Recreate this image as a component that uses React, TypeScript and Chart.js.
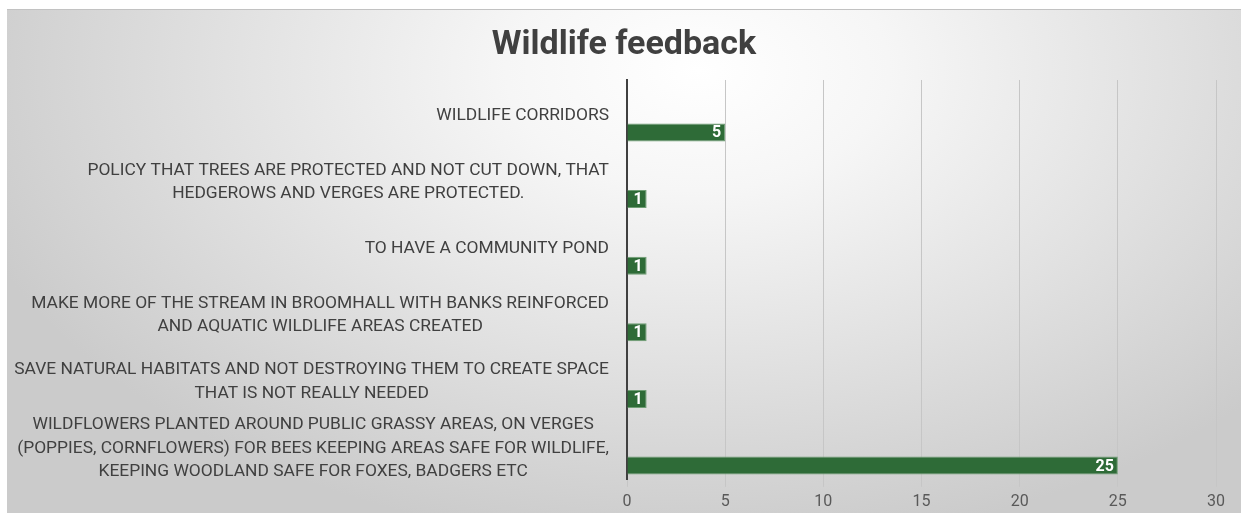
import React, { useEffect, useRef } from "react";
import { Chart, registerables } from "chart.js";

Chart.register(...registerables);

const chartTitle = "Wildlife feedback";
const categories: string[][] = [
  ["WILDLIFE CORRIDORS"],
  ["POLICY THAT TREES ARE PROTECTED AND NOT CUT DOWN, THAT", "HEDGEROWS AND VERGES ARE PROTECTED."],
  ["TO HAVE A COMMUNITY POND"],
  ["MAKE MORE OF THE STREAM IN BROOMHALL WITH BANKS REINFORCED", "AND AQUATIC WILDLIFE AREAS CREATED"],
  ["SAVE NATURAL HABITATS AND NOT DESTROYING THEM TO CREATE SPACE", "THAT IS NOT REALLY NEEDED"],
  [
    "WILDFLOWERS PLANTED AROUND PUBLIC GRASSY AREAS, ON VERGES",
    "(POPPIES, CORNFLOWERS) FOR BEES KEEPING AREAS SAFE FOR WILDLIFE,",
    "KEEPING WOODLAND SAFE FOR FOXES, BADGERS ETC",
  ],
];
const counts = [5, 1, 1, 1, 1, 25];
const spacerValues = [null, null, null, null, null, null];
const xMin = 0;
const xMax = 30;
const xStep = 5;

const LABEL_FONT = "17.4px Roboto";
const LABEL_COLOR = "#404040";

const titlePlugin = {
  id: "centeredTitle",
  afterDraw(chart: any) {
    const ctx = chart.ctx;
    ctx.save();
    ctx.font = "bold 34px Roboto";
    ctx.fillStyle = "#404040";
    ctx.textAlign = "center";
    ctx.textBaseline = "middle";
    ctx.fillText(chartTitle, chart.width / 2, 35);
    ctx.restore();
  },
};

const yLabelPlugin = {
  id: "yLabelBlocks",
  afterDraw(chart: any) {
    const ctx = chart.ctx;
    const yScale = chart.scales.y;
    const area = chart.chartArea;
    ctx.save();
    ctx.font = LABEL_FONT;
    ctx.fillStyle = LABEL_COLOR;
    ctx.textAlign = "center";
    ctx.textBaseline = "middle";
    const right = area.left - 18;
    const lh = 23.5;
    categories.forEach((lines, i) => {
      const cy = yScale.getPixelForValue(i) + 2;
      const maxW = Math.max(...lines.map((l) => ctx.measureText(l).width));
      const cx = right - maxW / 2;
      lines.forEach((l, j) => {
        ctx.fillText(l, cx, cy + (j - (lines.length - 1) / 2) * lh);
      });
    });
    ctx.restore();
  },
};

const valueLabelPlugin = {
  id: "valueLabels",
  afterDatasetsDraw(chart: any) {
    const ctx = chart.ctx;
    const meta = chart.getDatasetMeta(1);
    ctx.save();
    ctx.font = "bold 16px 'Liberation Sans Narrow', 'Roboto', sans-serif";
    ctx.fillStyle = "#ffffff";
    ctx.textAlign = "right";
    ctx.textBaseline = "middle";
    meta.data.forEach((el: any, i: number) => {
      ctx.fillText(String(counts[i]), el.x - 4, el.y + 1);
    });
    ctx.restore();
  },
};

export default function App() {
  const canvasRef = useRef<HTMLCanvasElement | null>(null);

  useEffect(() => {
    if (!canvasRef.current) return;
    const chart = new Chart(canvasRef.current, {
      type: "bar",
      data: {
        labels: categories.map((c) => c.join(" ")),
        datasets: [
          {
            label: "spacer",
            data: spacerValues as any,
            backgroundColor: "rgba(0,0,0,0)",
          },
          {
            label: "Count",
            data: counts,
            backgroundColor: "#2e6b37",
            borderColor: "#6f9e74",
            borderWidth: 1,
          },
        ],
      },
      options: {
        indexAxis: "y",
        animation: false,
        responsive: true,
        maintainAspectRatio: false,
        datasets: {
          bar: {
            categoryPercentage: 1.146,
            barPercentage: 0.47,
          },
        },
        layout: { padding: { top: 70, left: 0, right: 25, bottom: -5 } },
        plugins: {
          legend: { display: false },
          tooltip: { enabled: false },
          title: { display: false },
        },
        scales: {
          x: {
            min: xMin,
            max: xMax,
            ticks: {
              stepSize: xStep,
              color: "#595959",
              font: { family: "Roboto", size: 16 },
              padding: 6,
            },
            grid: {
              color: "#c6c6c6",
              lineWidth: 1,
              drawTicks: true,
              tickLength: 7,
            },
            border: { display: false },
          },
          y: {
            ticks: { display: false },
            grid: { display: false },
            border: { display: true, color: "#404040", width: 2 },
            afterFit(scale: any) {
              scale.width = 620;
            },
          },
        },
      },
      plugins: [titlePlugin, yLabelPlugin, valueLabelPlugin],
    });
    return () => chart.destroy();
  }, []);

  return (
    <div
      style={{
        position: "absolute",
        left: 7,
        top: 9,
        width: 1234,
        height: 504,
        borderTop: "1px solid #c2c2c2",
        background:
          "radial-gradient(ellipse 62% 95% at 56% 12%, #ffffff 0%, #f6f6f6 25%, #e2e2e2 60%, #cbcbcb 100%)",
      }}
    >
      <div style={{ position: "relative", width: 1234, height: 503 }}>
        <canvas ref={canvasRef} />
      </div>
    </div>
  );
}
